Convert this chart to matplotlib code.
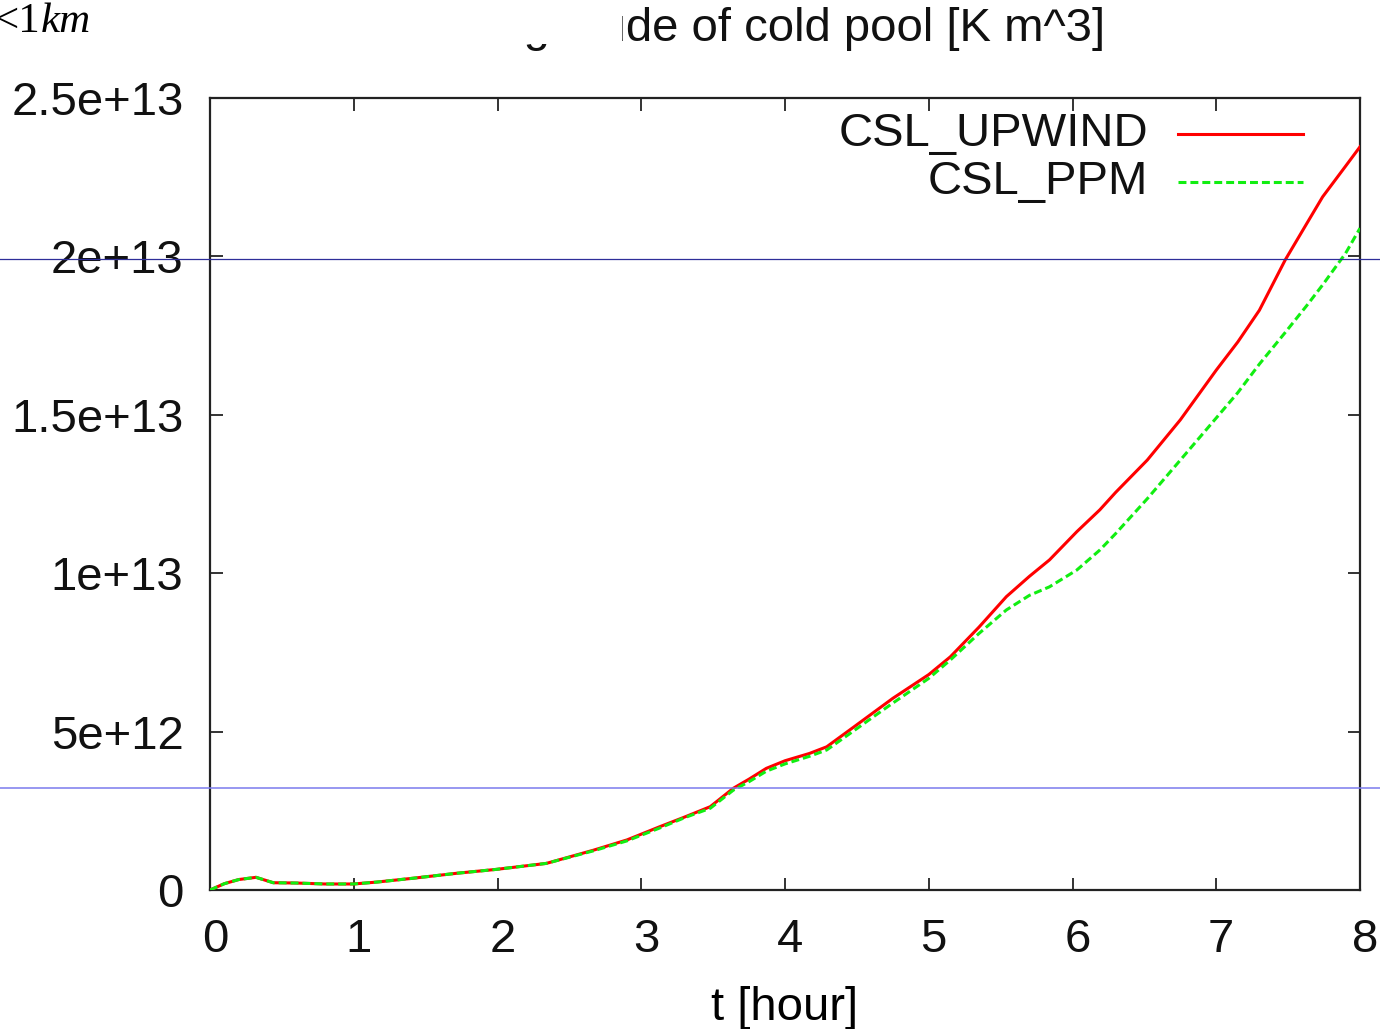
import matplotlib
matplotlib.use("Agg")
import matplotlib.pyplot as plt
import matplotlib.transforms as mtransforms
from matplotlib.lines import Line2D
from matplotlib.patches import Rectangle

# ---- data (values in 1e12 K m^3) ----
t_hour = [0, 0.1, 0.2, 0.32, 0.44, 0.6, 0.8, 1.0, 1.16, 1.41, 1.72, 1.99, 2.34,
          2.67, 2.9, 3.13, 3.3, 3.48, 3.64, 3.75, 3.87, 4.0, 4.17, 4.29, 4.48,
          4.6, 4.75, 5.0, 5.15, 5.35, 5.54, 5.7, 5.84, 6.03, 6.19, 6.3, 6.52,
          6.75, 7.0, 7.15, 7.30, 7.48, 7.63, 7.74, 7.9, 8.0]
csl_upwind = [0, 0.2, 0.33, 0.40, 0.23, 0.22, 0.19, 0.19, 0.25, 0.37, 0.53, 0.65,
              0.84, 1.26, 1.58, 2.0, 2.3, 2.63, 3.21, 3.5, 3.84, 4.08, 4.31, 4.52,
              5.15, 5.55, 6.05, 6.8, 7.36, 8.3, 9.26, 9.9, 10.42, 11.31, 12.0,
              12.55, 13.57, 14.84, 16.41, 17.3, 18.3, 19.89, 21.04, 21.88, 22.85,
              23.46]
csl_ppm = [0, 0.2, 0.33, 0.40, 0.23, 0.22, 0.19, 0.19, 0.25, 0.37, 0.53, 0.65,
           0.84, 1.24, 1.55, 1.96, 2.28, 2.58, 3.15, 3.42, 3.75, 3.98, 4.22, 4.42,
           5.03, 5.42, 5.9, 6.68, 7.26, 8.1, 8.84, 9.3, 9.57, 10.1, 10.73, 11.25,
           12.35, 13.57, 14.9, 15.7, 16.6, 17.6, 18.45, 19.1, 20.1, 20.89]
series_labels = ["CSL_UPWIND", "CSL_PPM"]
x_ticks = [0, 1, 2, 3, 4, 5, 6, 7, 8]
y_ticks = [0, 5e12, 1e13, 1.5e13, 2e13, 2.5e13]
y_tick_labels = ["0", "5e+12", "1e+13", "1.5e+13", "2e+13", "2.5e+13"]
title_text = "Magnitude of cold pool [K m^3]"
x_label = "t [hour]"

W, H = 1380, 1029
FS = 34
plt.rcParams["font.family"] = ["Liberation Sans", "DejaVu Sans"]
fig = plt.figure(figsize=(W / 100, H / 100), dpi=100)
ax = fig.add_axes([210 / W, 1 - 890 / H, 1150 / W, 792 / H])

scale = 1e12
ax.plot(t_hour, [v * scale for v in csl_upwind], color="#ff0000", lw=2.2,
        solid_joinstyle="round", zorder=3)
ax.plot(t_hour, [v * scale for v in csl_ppm], color="#11ee11", lw=2.2,
        linestyle=(0, (2.6, 1.3)), zorder=4)

ax.set_xlim(0, 8)
ax.set_ylim(0, 2.5e13)
ax.set_xticks(x_ticks)
ax.set_xticklabels([str(v) for v in x_ticks])
ax.set_yticks(y_ticks)
ax.set_yticklabels(y_tick_labels)
ax.tick_params(direction="in", length=9, width=1.2, top=True, right=True,
               labelsize=FS, colors="#111111")
ax.tick_params(axis="x", pad=20)
ax.tick_params(axis="y", pad=19)
shift = mtransforms.ScaledTranslation(5 / 100, 0, fig.dpi_scale_trans)
for lbl in ax.get_xticklabels():
    lbl.set_transform(lbl.get_transform() + shift)
for s in ax.spines.values():
    s.set_linewidth(1.6)
    s.set_color("#222222")

ax.set_xlabel(x_label, fontsize=FS)
ax.xaxis.set_label_coords(0.5, (890 - 1008) / 792)
ax.xaxis.label.set_va("center")

# legend (gnuplot style: right-aligned text, sample to the right)
colors = ["#ff0000", "#11ee11"]
styles = ["-", (0, (2.6, 1.3))]
rows_y = [(890 - 134) / 792, (890 - 182) / 792]
for lab, c, ls, yy in zip(series_labels, colors, styles, rows_y):
    ax.text((1148 - 210) / 1150, yy, lab, transform=ax.transAxes, ha="right",
            va="center", fontsize=FS, color="#111111")
    ax.add_line(Line2D([(1178 - 210) / 1150, (1303 - 210) / 1150], [yy, yy],
                       transform=ax.transAxes, color=c, lw=2.2, linestyle=ls,
                       clip_on=False))

# title, partially covered by a white box
fig.text(1105 / W, 1 - 41 / H, title_text, ha="right", va="baseline",
         fontsize=FS, color="#111111", zorder=1)
fig.add_artist(Rectangle((0, 1 - 44 / H), 622 / W, 44 / H, transform=fig.transFigure,
                         facecolor="white", edgecolor="none", zorder=2))

# "<1km" overlay text
t1 = fig.text(-5 / W, 1 - 32 / H, "<1", family="Liberation Serif", fontsize=31,
              ha="left", va="baseline", zorder=5)
fig.canvas.draw()
bb = t1.get_window_extent()
fig.text(bb.x1 / W, 1 - 32 / H, "km", family="Liberation Serif", style="italic",
         fontsize=31, ha="left", va="baseline", zorder=5)

# overlay horizontal lines spanning the full figure width
fig.add_artist(Line2D([0, 1], [1 - 259 / H] * 2, transform=fig.transFigure,
                      color="#2e2e99", lw=0.9, zorder=6))
fig.add_artist(Line2D([0, 1], [1 - 788 / H] * 2, transform=fig.transFigure,
                      color="#7b7bee", lw=1.1, zorder=6))

fig.savefig("out.png", dpi=100)
